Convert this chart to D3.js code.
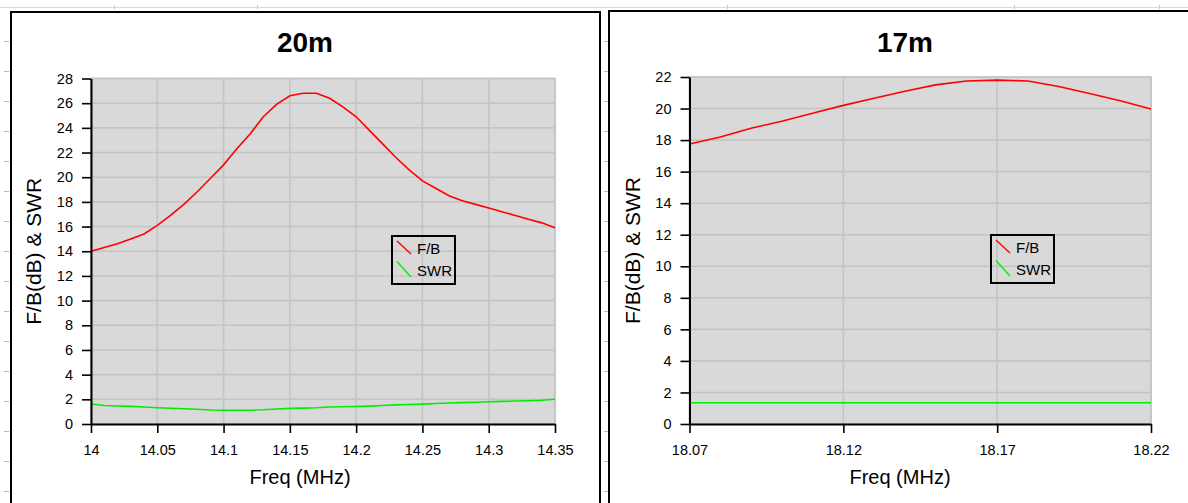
<!DOCTYPE html>
<html>
<head>
<meta charset="utf-8">
<script src="https://cdn.jsdelivr.net/npm/d3@7"></script>
<style>
  html, body { margin: 0; padding: 0; background: #ffffff; }
  svg { display: block; }
  text { font-family: "Liberation Sans", Arial, Helvetica, sans-serif; fill: #000; }
</style>
</head>
<body>
<svg id="chart" width="1188" height="503"></svg>
<script>
// ---------- Data ----------
const freq20 = [14.00,14.01,14.02,14.03,14.04,14.05,14.06,14.07,14.08,14.09,14.10,14.11,14.12,14.13,14.14,14.15,14.16,14.17,14.18,14.19,14.20,14.21,14.22,14.23,14.24,14.25,14.26,14.27,14.28,14.29,14.30,14.31,14.32,14.33,14.34,14.35];
const fb20    = [14.0,14.3,14.6,15.0,15.4,16.1,16.9,17.8,18.8,19.9,21.0,22.3,23.5,24.9,25.9,26.6,26.8,26.8,26.4,25.7,24.9,23.8,22.7,21.6,20.6,19.7,19.1,18.5,18.1,17.8,17.5,17.2,16.9,16.6,16.3,15.9];
const swr20   = [1.62,1.50,1.46,1.43,1.38,1.32,1.28,1.24,1.20,1.14,1.12,1.11,1.12,1.15,1.22,1.27,1.29,1.32,1.38,1.40,1.42,1.45,1.50,1.55,1.58,1.61,1.66,1.70,1.73,1.76,1.80,1.83,1.86,1.89,1.93,2.00];
const xTicks20 = [14, 14.05, 14.1, 14.15, 14.2, 14.25, 14.3, 14.35];
const yTicks20 = [0,2,4,6,8,10,12,14,16,18,20,22,24,26,28];

const freq17 = [18.07,18.08,18.09,18.10,18.11,18.12,18.13,18.14,18.15,18.16,18.17,18.18,18.19,18.20,18.21,18.22];
const fb17   = [17.75,18.2,18.75,19.2,19.7,20.2,20.65,21.1,21.5,21.75,21.8,21.75,21.4,20.95,20.5,19.97];
const swr17  = [1.35,1.35,1.35,1.35,1.35,1.35,1.35,1.35,1.35,1.35,1.35,1.35,1.35,1.35,1.35,1.35];
const xTicks17 = [18.07, 18.12, 18.17, 18.22];
const yTicks17 = [0,2,4,6,8,10,12,14,16,18,20,22];

const seriesNames = ["F/B", "SWR"];
const seriesColors = ["#ff0000", "#00ee00"];

// ---------- Drawing ----------
const svg = d3.select("#chart");

// page rulers (faint)
svg.append("line").attr("x1", 0).attr("x2", 1188).attr("y1", 7.5).attr("y2", 7.5)
  .attr("stroke", "#d8d8d8").attr("stroke-width", 1);
[114, 257, 727, 1014, 1159].forEach(x => {
  svg.append("line").attr("x1", x + 0.5).attr("x2", x + 0.5).attr("y1", 5).attr("y2", 9)
    .attr("stroke", "#c8c8c8");
});
[0, 600].forEach(x0 => {
  for (let y = 41; y < 503; y += 30) {
    svg.append("line").attr("x1", x0 + 4).attr("x2", x0 + 9).attr("y1", y + 0.5).attr("y2", y + 0.5)
      .attr("stroke", "#b8b8b8");
  }
});

function drawPanel(o) {
  const g = svg.append("g");
  // panel frame
  g.append("rect").attr("x", o.frame[0]).attr("y", o.frame[1])
    .attr("width", o.frame[2]).attr("height", o.frame[3])
    .attr("fill", "#ffffff").attr("stroke", "#000").attr("stroke-width", 2);

  const x = d3.scaleLinear().domain(o.xDomain).range([o.left, o.right]);
  const y = d3.scaleLinear().domain(o.yDomain).range([o.bottom, o.top]);

  // plot background
  g.append("rect").attr("x", o.left).attr("y", o.top)
    .attr("width", o.right - o.left).attr("height", o.bottom - o.top)
    .attr("fill", "#d9d9d9").attr("stroke", "#c6c6c6").attr("stroke-width", 1.5);

  // grid
  g.append("g").selectAll("line").data(o.xTicks).join("line")
    .attr("x1", d => x(d)).attr("x2", d => x(d))
    .attr("y1", o.top).attr("y2", o.bottom)
    .attr("stroke", "#c4c4c4").attr("stroke-width", 1.6);
  g.append("g").selectAll("line").data(o.yTicks).join("line")
    .attr("x1", o.left).attr("x2", o.right)
    .attr("y1", d => y(d)).attr("y2", d => y(d))
    .attr("stroke", "#c4c4c4").attr("stroke-width", 1.6);

  // series lines
  const line = d3.line().x(d => x(d[0])).y(d => y(d[1]));
  o.series.forEach((s, i) => {
    g.append("path")
      .datum(o.freq.map((f, k) => [f, s[k]]))
      .attr("d", line)
      .attr("fill", "none")
      .attr("stroke", seriesColors[i])
      .attr("stroke-width", 1.6);
  });

  // axes
  const xAxis = g.append("g").attr("transform", `translate(0,${o.bottom})`)
    .call(d3.axisBottom(x).tickValues(o.xTicks).tickFormat(d => String(+d.toFixed(2))).tickSizeInner(9).tickSizeOuter(0));
  xAxis.select(".domain").attr("stroke-width", 2);
  xAxis.selectAll(".tick line").attr("stroke-width", 1.6);
  xAxis.selectAll(".tick text").attr("y", 31).attr("dy", 0)
    .style("font-size", "14.5px").style("font-family", '"Liberation Sans", Arial, sans-serif');

  const yAxis = g.append("g").attr("transform", `translate(${o.left},0)`)
    .call(d3.axisLeft(y).tickValues(o.yTicks).tickFormat(d3.format("d")).tickSizeInner(9).tickSizeOuter(0).tickPadding(9));
  yAxis.select(".domain").attr("stroke-width", 2);
  yAxis.selectAll(".tick line").attr("stroke-width", 1.6);
  yAxis.selectAll(".tick text")
    .style("font-size", "14.5px").style("font-family", '"Liberation Sans", Arial, sans-serif');

  // title
  g.append("text").attr("x", o.titleX).attr("y", 52)
    .attr("text-anchor", "middle").style("font-size", "28px").style("font-weight", "bold")
    .text(o.title);

  // axis titles
  g.append("text").attr("x", o.xLabelX).attr("y", 484)
    .attr("text-anchor", "middle").style("font-size", "20px")
    .text("Freq (MHz)");
  g.append("text")
    .attr("transform", `translate(${o.yLabelX},${(o.top + o.bottom) / 2}) rotate(-90)`)
    .attr("text-anchor", "middle").style("font-size", "21px")
    .text("F/B(dB) & SWR");

  // legend
  const lg = g.append("g").attr("transform", `translate(${o.legend[0]},${o.legend[1]})`);
  lg.append("rect").attr("x", 0).attr("y", 0).attr("width", 63).attr("height", 48)
    .attr("fill", "none").attr("stroke", "#000").attr("stroke-width", 2);
  seriesNames.forEach((n, i) => {
    lg.append("line").attr("x1", 5).attr("y1", 5 + i * 20.5).attr("x2", 19).attr("y2", 18 + i * 23)
      .attr("stroke", seriesColors[i]).attr("stroke-width", 1.4);
    lg.append("text").attr("x", 25).attr("y", 18 + i * 22)
      .style("font-size", "15px").text(n);
  });
}

drawPanel({
  frame: [11, 12, 589, 500],
  left: 91, right: 555, top: 78.5, bottom: 424,
  xDomain: [14, 14.35], yDomain: [0, 28],
  xTicks: xTicks20, yTicks: yTicks20,
  freq: freq20, series: [fb20, swr20],
  title: "20m", titleX: 305, xLabelX: 300, yLabelX: 41,
  legend: [392, 236]
});

drawPanel({
  frame: [609, 11, 600, 500],
  left: 689.5, right: 1151, top: 77, bottom: 424,
  xDomain: [18.07, 18.22], yDomain: [0, 22],
  xTicks: xTicks17, yTicks: yTicks17,
  freq: freq17, series: [fb17, swr17],
  title: "17m", titleX: 905, xLabelX: 900, yLabelX: 640,
  legend: [991, 235]
});
</script>
</body>
</html>
